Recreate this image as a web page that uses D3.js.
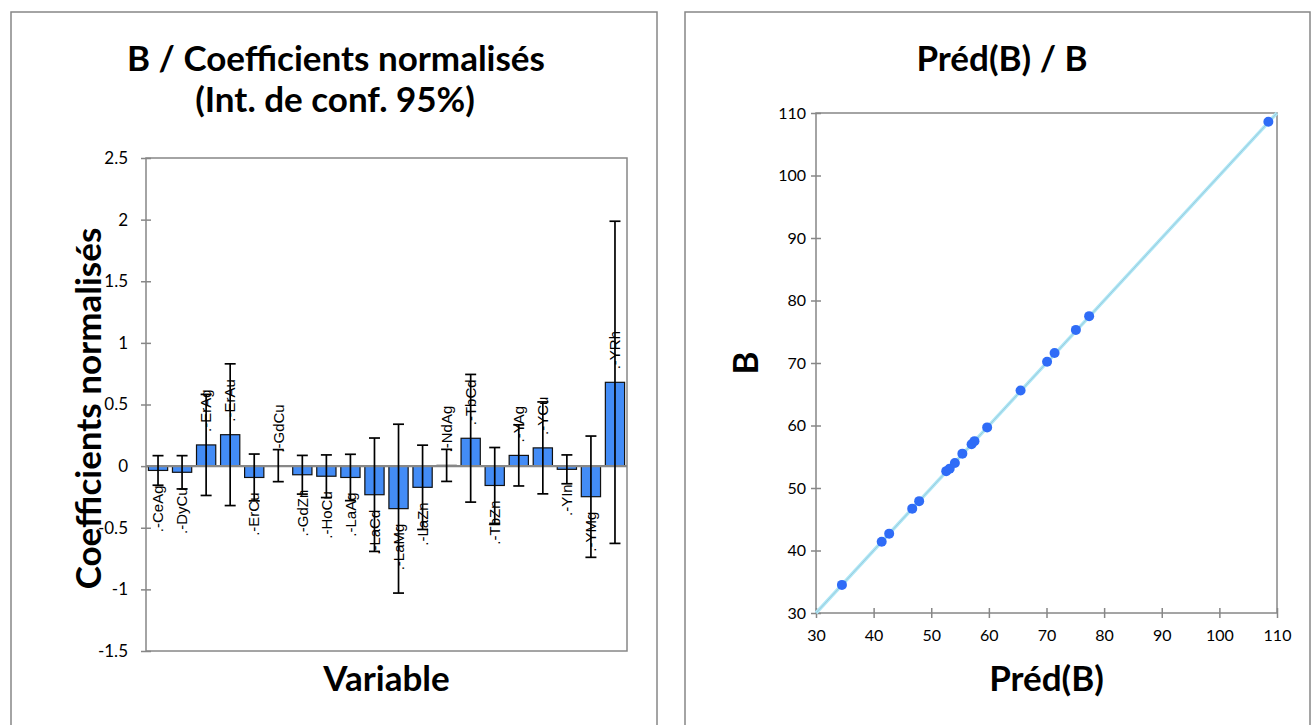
<!DOCTYPE html>
<html>
<head>
<meta charset="utf-8">
<script src="https://cdn.jsdelivr.net/npm/d3@7"></script>
<style>
  body { margin: 0; background: #fff; }
  svg { display: block; }
</style>
</head>
<body>
<script>
// data
const variables = ["CeAg", "DyCu", "ErAg", "ErAu", "ErCu", "GdCu", "GdZn", "HoCu", "LaAg", "LaCd",
  "LaMg", "LaZn", "NdAg", "TbCd", "TbZn", "YAg", "YCu", "YIn", "YMg", "YRh"];
const coefs = [-0.035, -0.05, 0.172, 0.255, -0.092, 0.004, -0.07, -0.082, -0.092, -0.232,
  -0.345, -0.172, 0.006, 0.226, -0.157, 0.087, 0.148, -0.026, -0.248, 0.68];
const ciHalf = [0.12, 0.135, 0.41, 0.575, 0.19, 0.13, 0.157, 0.173, 0.188, 0.46,
  0.685, 0.342, 0.13, 0.518, 0.308, 0.248, 0.373, 0.117, 0.492, 1.307];
const coefTicks = [-1.5, -1, -0.5, 0, 0.5, 1, 1.5, 2, 2.5];

const predB = [34.5, 41.4, 42.7, 46.7, 47.9, 52.6, 53.2, 54.1, 55.4, 57.0, 57.5, 59.7,
  65.5, 70.1, 71.4, 75.1, 77.4, 108.5];
const obsB = [34.5, 41.4, 42.7, 46.7, 47.9, 52.7, 53.1, 54.0, 55.5, 57.0, 57.5, 59.7,
  65.6, 70.2, 71.6, 75.3, 77.5, 108.6];
const predTicks = [30, 40, 50, 60, 70, 80, 90, 100, 110];

const titleFont = "Lato, 'Open Sans', sans-serif";
const gridGray = "#878787";

const svg = d3.select("body").append("svg")
  .attr("width", 1312)
  .attr("height", 725);

// panel frames
svg.append("rect").attr("x", 11).attr("y", 12).attr("width", 646).attr("height", 740)
  .attr("fill", "#fff").attr("stroke", gridGray).attr("stroke-width", 1.5);
svg.append("rect").attr("x", 685).attr("y", 12).attr("width", 625).attr("height", 740)
  .attr("fill", "#fff").attr("stroke", gridGray).attr("stroke-width", 1.5);

// make ticks cross the axis line
function crossTicks(g, dir) {
  g.select(".domain").remove();
  g.selectAll(".tick line").attr("stroke", gridGray).attr("stroke-width", 1.5);
  if (dir === "left") g.selectAll(".tick line").attr("x1", 5);
  else g.selectAll(".tick line").attr("y1", -5);
  g.selectAll(".tick text").attr("fill", "#000");
}

// ---------- left chart: normalised coefficients ----------
const x1 = d3.scaleBand().domain(variables).range([146, 627]).paddingInner(0.2).paddingOuter(0.1);
const y1 = d3.scaleLinear().domain([-1.5, 2.5]).range([651, 158]);

const left = svg.append("g");

left.append("rect")
  .attr("x", x1.range()[0]).attr("y", y1(2.5))
  .attr("width", x1.range()[1] - x1.range()[0]).attr("height", y1(-1.5) - y1(2.5))
  .attr("fill", "none").attr("stroke", gridGray).attr("stroke-width", 1.5);

left.append("g")
  .attr("transform", `translate(${x1.range()[0]},0)`)
  .call(d3.axisLeft(y1).tickValues(coefTicks).tickSize(5).tickPadding(13).tickFormat(d => String(d)))
  .call(g => crossTicks(g, "left"))
  .style("font-family", titleFont)
  .style("font-size", "17px");

// bars
left.selectAll(".bar")
  .data(variables)
  .join("rect")
  .attr("class", "bar")
  .attr("x", d => x1(d))
  .attr("y", (d, i) => y1(Math.max(0, coefs[i])))
  .attr("width", x1.bandwidth())
  .attr("height", (d, i) => Math.abs(y1(coefs[i]) - y1(0)))
  .attr("fill", "#438cf6")
  .attr("stroke", "#111")
  .attr("stroke-width", 1.2);

// zero line
left.append("line")
  .attr("x1", x1.range()[0]).attr("x2", x1.range()[1])
  .attr("y1", y1(0)).attr("y2", y1(0))
  .attr("stroke", gridGray).attr("stroke-width", 2.2);

// bar labels, rotated
left.selectAll(".lab")
  .data(variables)
  .join("text")
  .attr("class", "lab")
  .attr("transform", (d, i) => {
    const cx = x1(d) + x1.bandwidth() / 2;
    const yy = coefs[i] >= 0 ? y1(coefs[i]) - 13 : y1(coefs[i]) + 15;
    return `translate(${cx},${yy}) rotate(-90)`;
  })
  .attr("dy", "0.35em")
  .attr("text-anchor", (d, i) => (coefs[i] >= 0 ? "start" : "end"))
  .style("font-family", "'Liberation Sans', Arial, sans-serif")
  .style("font-size", "15px")
  .text(d => ".-" + d);

// error bars
const err = left.selectAll(".err").data(variables).join("g").attr("class", "err")
  .attr("stroke", "#000").attr("stroke-width", 1.7);
err.append("line")
  .attr("x1", d => x1(d) + x1.bandwidth() / 2)
  .attr("x2", d => x1(d) + x1.bandwidth() / 2)
  .attr("y1", (d, i) => y1(coefs[i] + ciHalf[i]))
  .attr("y2", (d, i) => y1(coefs[i] - ciHalf[i]));
err.append("line")
  .attr("x1", d => x1(d) + x1.bandwidth() / 2 - 5.5)
  .attr("x2", d => x1(d) + x1.bandwidth() / 2 + 5.5)
  .attr("y1", (d, i) => y1(coefs[i] + ciHalf[i]))
  .attr("y2", (d, i) => y1(coefs[i] + ciHalf[i]));
err.append("line")
  .attr("x1", d => x1(d) + x1.bandwidth() / 2 - 5.5)
  .attr("x2", d => x1(d) + x1.bandwidth() / 2 + 5.5)
  .attr("y1", (d, i) => y1(coefs[i] - ciHalf[i]))
  .attr("y2", (d, i) => y1(coefs[i] - ciHalf[i]));

// titles
const bigFont = "35px";
left.append("text")
  .attr("x", 336).attr("y", 71)
  .attr("text-anchor", "middle")
  .style("font-family", titleFont).style("font-weight", "bold").style("font-size", bigFont)
  .text("B / Coefficients normalisés");
left.append("text")
  .attr("x", 335).attr("y", 112)
  .attr("text-anchor", "middle")
  .style("font-family", titleFont).style("font-weight", "bold").style("font-size", bigFont)
  .text("(Int. de conf. 95%)");
left.append("text")
  .attr("transform", `translate(101,${(y1(2.5) + y1(-1.5)) / 2 + 4}) rotate(-90)`)
  .attr("text-anchor", "middle")
  .style("font-family", titleFont).style("font-weight", "bold").style("font-size", bigFont)
  .text("Coefficients normalisés");
left.append("text")
  .attr("x", (x1.range()[0] + x1.range()[1]) / 2).attr("y", 691)
  .attr("text-anchor", "middle")
  .style("font-family", titleFont).style("font-weight", "bold").style("font-size", bigFont)
  .text("Variable");

// ---------- right chart: Préd(B) vs B ----------
const x2 = d3.scaleLinear().domain([30, 110]).range([816, 1277]);
const y2 = d3.scaleLinear().domain([30, 110]).range([613, 113]);

const right = svg.append("g");

right.append("rect")
  .attr("x", x2(30)).attr("y", y2(110))
  .attr("width", x2(110) - x2(30)).attr("height", y2(30) - y2(110))
  .attr("fill", "none").attr("stroke", gridGray).attr("stroke-width", 1.5);

right.append("g")
  .attr("transform", `translate(${x2(30)},0)`)
  .call(d3.axisLeft(y2).tickValues(predTicks).tickSize(5).tickPadding(5))
  .call(g => crossTicks(g, "left"))
  .style("font-family", titleFont)
  .style("font-size", "16px");

right.append("g")
  .attr("transform", `translate(0,${y2(30)})`)
  .call(d3.axisBottom(x2).tickValues(predTicks).tickSize(5).tickPadding(12))
  .call(g => crossTicks(g, "bottom"))
  .style("font-family", titleFont)
  .style("font-size", "16px");

// identity line
right.append("line")
  .attr("x1", x2(30)).attr("y1", y2(30))
  .attr("x2", x2(110)).attr("y2", y2(110))
  .attr("stroke", "#ade6f6").attr("stroke-width", 3.4);
right.append("line")
  .attr("x1", x2(30)).attr("y1", y2(30))
  .attr("x2", x2(110)).attr("y2", y2(110))
  .attr("stroke", "#8fb9c6").attr("stroke-width", 0.6);

right.selectAll(".pt")
  .data(predB)
  .join("circle")
  .attr("class", "pt")
  .attr("cx", d => x2(d))
  .attr("cy", (d, i) => y2(obsB[i]))
  .attr("r", 5)
  .attr("fill", "#2f6cf7");

right.append("text")
  .attr("x", 1002).attr("y", 71)
  .attr("text-anchor", "middle")
  .style("font-family", titleFont).style("font-weight", "bold").style("font-size", bigFont)
  .text("Préd(B) / B");
right.append("text")
  .attr("x", (x2(30) + x2(110)) / 2).attr("y", 691)
  .attr("text-anchor", "middle")
  .style("font-family", titleFont).style("font-weight", "bold").style("font-size", bigFont)
  .text("Préd(B)");
right.append("text")
  .attr("transform", `translate(758,${(y2(30) + y2(110)) / 2}) rotate(-90)`)
  .attr("text-anchor", "middle")
  .style("font-family", titleFont).style("font-weight", "bold").style("font-size", bigFont)
  .text("B");
</script>
</body>
</html>
